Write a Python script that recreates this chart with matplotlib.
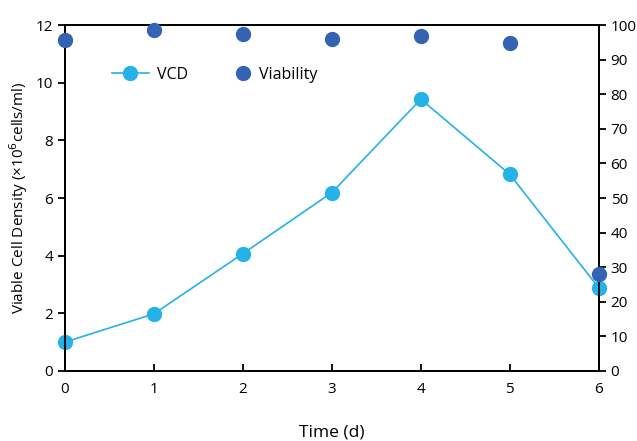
import matplotlib.pyplot as plt

plt.rcParams['font.family'] = ['Open Sans', 'DejaVu Sans']

days = [0, 1, 2, 3, 4, 5, 6]
vcd = [1.0, 1.98, 4.07, 6.19, 9.43, 6.82, 2.88]
viability = [95.7, 98.6, 97.4, 95.9, 96.8, 94.8, 28.1]

vcd_color = '#25B2E6'
via_color = '#3363B2'

fig = plt.figure(figsize=(6.37, 4.41), dpi=100)
ax = fig.add_axes([0.102, 0.159, 0.838, 0.784])
ax2 = ax.twinx()

l1, = ax.plot(days, vcd, color=vcd_color, lw=1.2, marker='o', ms=10,
              label='VCD', clip_on=False, zorder=3)
l2, = ax2.plot(days, viability, ls='none', marker='o', ms=10, color=via_color,
               label='Viability', clip_on=False, zorder=3)

ax.set_xlim(0, 6)
ax.set_ylim(0, 12)
ax2.set_ylim(0, 100)
ax.set_xticks(days)
ax.set_yticks(range(0, 13, 2))
ax2.set_yticks(range(0, 101, 10))

for a in (ax, ax2):
    for s in a.spines.values():
        s.set_linewidth(1.3)
ax.tick_params(axis='x', direction='in', length=5, width=1.3, labelsize=11, pad=8)
ax.tick_params(axis='y', direction='out', length=5, width=1.3, labelsize=11)
ax2.tick_params(axis='y', direction='out', length=5, width=1.3, labelsize=11)

ax.set_ylabel('Viable Cell Density (×10$^6$cells/ml)', fontsize=11)
ax.set_xlabel('Time (d)', fontsize=12.5, labelpad=20)

# two single-entry legends so the marker-only handle sits close to its text
leg1 = ax2.legend(handles=[l1], frameon=False, fontsize=11.5,
                  loc='center left', bbox_to_anchor=(0.088, 0.857),
                  handlelength=2.3, handletextpad=0.5, borderpad=0, borderaxespad=0)
ax2.add_artist(leg1)
ax2.legend(handles=[l2], frameon=False, fontsize=11.5,
           loc='center left', bbox_to_anchor=(0.318, 0.857),
           handlelength=1.0, handletextpad=0.5, borderpad=0, borderaxespad=0)

fig.savefig('out.png', dpi=100)
